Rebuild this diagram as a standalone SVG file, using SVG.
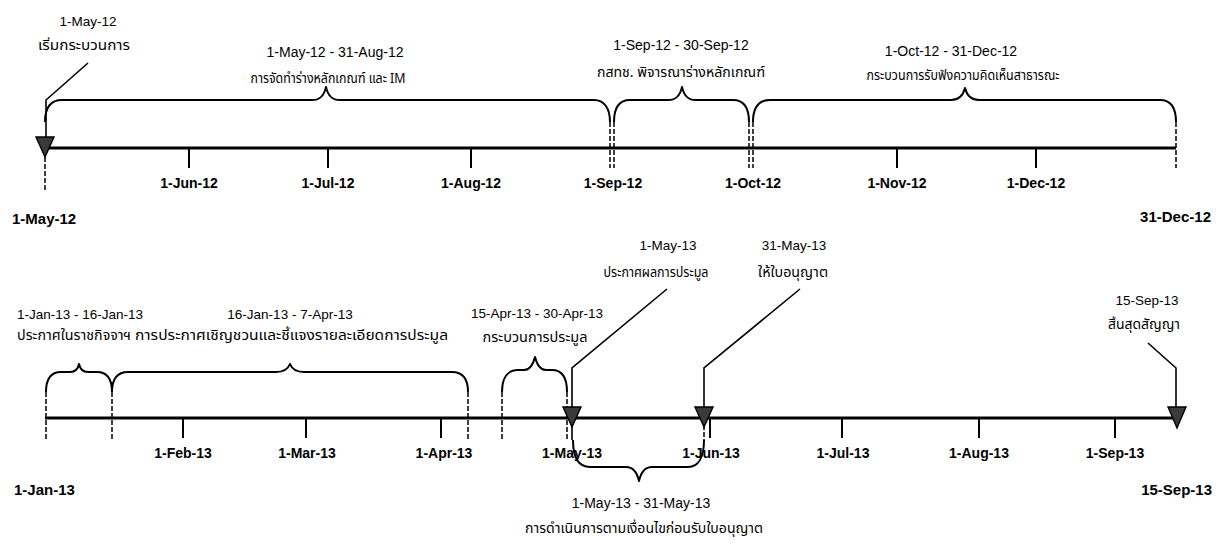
<svg xmlns="http://www.w3.org/2000/svg" width="1223" height="552" viewBox="0 0 1223 552">
<style>
.tl{stroke:#000;stroke-width:3;fill:none}
.tk{stroke:#000;stroke-width:2;fill:none}
.br{stroke:#000;stroke-width:2;fill:none;stroke-linejoin:round}
.ds{stroke:#000;stroke-width:1.5;stroke-dasharray:5 2;fill:none}
.co{stroke:#000;stroke-width:1.6;fill:none}
.mk{fill:#3a3a3a;stroke:#000;stroke-width:1.4}
text{fill:#000;font-family:"Liberation Sans","Noto Sans",sans-serif}
.tkl{font-size:14px;font-weight:bold;text-anchor:middle}
.cor{font-size:15px;font-weight:bold}
.dt{font-size:13.5px;text-anchor:middle}
.th{font-size:13.5px;font-family:"Noto Sans Thai","Noto Sans","DejaVu Sans",sans-serif}
.c{text-anchor:middle}
.s{text-anchor:start}
</style>
<g id="connectors">
<line class="tl" x1="45" y1="148" x2="1176" y2="148"/>
<line class="tk" x1="189" y1="148" x2="189" y2="168"/>
<line class="tk" x1="328" y1="148" x2="328" y2="168"/>
<line class="tk" x1="471" y1="148" x2="471" y2="168"/>
<line class="tk" x1="897" y1="148" x2="897" y2="168"/>
<line class="tk" x1="1036" y1="148" x2="1036" y2="168"/>
<line class="ds" x1="45" y1="157" x2="45" y2="190"/>
<line class="ds" x1="610" y1="122" x2="610" y2="168"/>
<line class="ds" x1="614" y1="122" x2="614" y2="168"/>
<line class="ds" x1="749" y1="122" x2="749" y2="168"/>
<line class="ds" x1="753" y1="122" x2="753" y2="168"/>
<line class="ds" x1="1176" y1="122" x2="1176" y2="168"/>
<path class="br" d="M45,122 C45,108 50,100 62,100 L312,100 C320,100 324,96 326,87 C328,96 332,100 340,100 L594,100 C604,100 610,108 610,122"/>
<path class="br" d="M614,122 C614,108 619,100 630,100 L668,100 C676,100 680,96 682,87 C684,96 688,100 696,100 L733,100 C744,100 749,108 749,122"/>
<path class="br" d="M753,122 C753,108 758,100 770,100 L951,100 C959,100 963,96 965,88 C967,96 971,100 979,100 L1160,100 C1171,100 1176,108 1176,122"/>
<line class="tl" x1="45" y1="418" x2="1177" y2="418"/>
<line class="tk" x1="183" y1="418" x2="183" y2="438"/>
<line class="tk" x1="306" y1="418" x2="306" y2="438"/>
<line class="tk" x1="441" y1="418" x2="441" y2="438"/>
<line class="tk" x1="710" y1="418" x2="710" y2="438"/>
<line class="tk" x1="842" y1="418" x2="842" y2="438"/>
<line class="tk" x1="979" y1="418" x2="979" y2="438"/>
<line class="tk" x1="1115" y1="418" x2="1115" y2="438"/>
<line class="ds" x1="46" y1="392" x2="46" y2="440"/>
<line class="ds" x1="112" y1="392" x2="112" y2="440"/>
<line class="ds" x1="468" y1="392" x2="468" y2="440"/>
<line class="ds" x1="502" y1="392" x2="502" y2="440"/>
<line class="ds" x1="567" y1="392" x2="567" y2="440"/>
<line class="ds" x1="704" y1="425" x2="704" y2="440"/>
<path class="br" d="M46,392 C46,379 51,372 61,372 L70,372 C75,372 78,369 79,364 C80,369 83,372 88,372 L97,372 C107,372 112,379 112,392"/>
<path class="br" d="M112,392 C112,379 117,372 128,372 L276,372 C284,372 288,369 290,364 C292,369 296,372 304,372 L452,372 C463,372 468,379 468,392"/>
<path class="br" d="M502,392 C502,379 507,370 518,370 L524,370 C530,370 533,365 535,357 C537,365 540,370 546,370 L552,370 C563,370 567,379 567,392"/>
<path class="br" d="M573,440 C573,456 578,467 590,467 L626,467 C633,467 637,472 639,481 C641,472 645,467 652,467 L688,467 C699,467 704,456 704,440"/>
<polyline class="co" points="88,63 46,100 46,138"/>
<polyline class="co" points="667,289 572,368 572,440"/>
<polyline class="co" points="800,289 704,368 704,408"/>
<polyline class="co" points="1148,343 1176,368 1176,408"/>
</g>
<g id="markers">
<polygon class="mk" points="36,137 54,137 45,157"/>
<polygon class="mk" points="563,407 581,407 572,427"/>
<polygon class="mk" points="695,407 713,407 704,427"/>
<polygon class="mk" points="1168,407 1186,407 1177,428"/>
</g>
<g id="axis-labels">
<text class="tkl" x="189" y="188">1-Jun-12</text>
<text class="tkl" x="328" y="188">1-Jul-12</text>
<text class="tkl" x="471" y="188">1-Aug-12</text>
<text class="tkl" x="613" y="188">1-Sep-12</text>
<text class="tkl" x="753" y="188">1-Oct-12</text>
<text class="tkl" x="897" y="188">1-Nov-12</text>
<text class="tkl" x="1036" y="188">1-Dec-12</text>
<text class="cor" x="12" y="224">1-May-12</text>
<text class="cor" x="1211" y="222" text-anchor="end">31-Dec-12</text>
<text class="tkl" x="183" y="458">1-Feb-13</text>
<text class="tkl" x="307" y="458">1-Mar-13</text>
<text class="tkl" x="444" y="458">1-Apr-13</text>
<text class="tkl" x="572" y="458">1-May-13</text>
<text class="tkl" x="711" y="458">1-Jun-13</text>
<text class="tkl" x="843" y="458">1-Jul-13</text>
<text class="tkl" x="979" y="458">1-Aug-13</text>
<text class="tkl" x="1115" y="458">1-Sep-13</text>
<text class="cor" x="14" y="495">1-Jan-13</text>
<text class="cor" x="1212" y="495" text-anchor="end">15-Sep-13</text>
</g>
<g id="n-start">
<text class="dt" x="88" y="26">1-May-12</text>
<text class="th c" x="84" y="50" textLength="92" lengthAdjust="spacingAndGlyphs">เริ่มกระบวนการ</text>
</g>
<g id="n-draft">
<text class="dt" x="335" y="57" style="font-size:14px">1-May-12 - 31-Aug-12</text>
<text class="th c" x="328" y="83" textLength="155" lengthAdjust="spacingAndGlyphs">การจัดทำร่างหลักเกณฑ์ และ IM</text>
</g>
<g id="n-review">
<text class="dt" x="681" y="50" style="font-size:14px">1-Sep-12 - 30-Sep-12</text>
<text class="th c" x="681" y="77" textLength="168" lengthAdjust="spacingAndGlyphs">กสทช. พิจารณาร่างหลักเกณฑ์</text>
</g>
<g id="n-hearing">
<text class="dt" x="951" y="56" style="font-size:14px">1-Oct-12 - 31-Dec-12</text>
<text class="th c" x="963" y="80" textLength="193" lengthAdjust="spacingAndGlyphs">กระบวนการรับฟังความคิดเห็นสาธารณะ</text>
</g>
<g id="n-gazette">
<text class="dt" x="80" y="319">1-Jan-13 - 16-Jan-13</text>
<text class="th s" x="17" y="340" textLength="114" lengthAdjust="spacingAndGlyphs">ประกาศในราชกิจจาฯ</text>
</g>
<g id="n-invite">
<text class="dt" x="290" y="319">16-Jan-13 - 7-Apr-13</text>
<text class="th s" x="135" y="340" textLength="313" lengthAdjust="spacingAndGlyphs">การประกาศเชิญชวนและชี้แจงรายละเอียดการประมูล</text>
</g>
<g id="n-auction">
<text class="dt" x="537" y="318">15-Apr-13 - 30-Apr-13</text>
<text class="th c" x="535" y="342" textLength="105" lengthAdjust="spacingAndGlyphs">กระบวนการประมูล</text>
</g>
<g id="n-result">
<text class="dt" x="668" y="250">1-May-13</text>
<text class="th c" x="656" y="277" textLength="105" lengthAdjust="spacingAndGlyphs">ประกาศผลการประมูล</text>
</g>
<g id="n-license">
<text class="dt" x="794" y="250">31-May-13</text>
<text class="th c" x="793" y="277" textLength="70" lengthAdjust="spacingAndGlyphs">ให้ใบอนุญาต</text>
</g>
<g id="n-end">
<text class="dt" x="1147" y="305">15-Sep-13</text>
<text class="th c" x="1144" y="329" textLength="72" lengthAdjust="spacingAndGlyphs">สิ้นสุดสัญญา</text>
</g>
<g id="n-conditions">
<text class="dt" x="641" y="508" style="font-size:14px">1-May-13 - 31-May-13</text>
<text class="th c" x="644" y="533" textLength="238" lengthAdjust="spacingAndGlyphs">การดำเนินการตามเงื่อนไขก่อนรับใบอนุญาต</text>
</g>
</svg>
